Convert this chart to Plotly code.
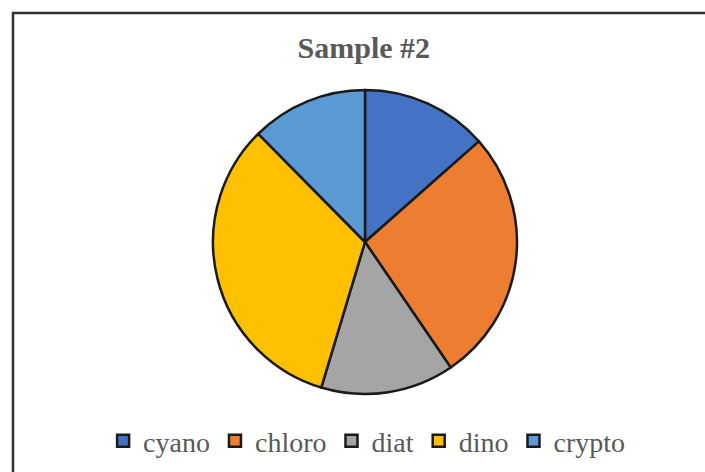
import plotly.graph_objects as go

# Phytoplankton group composition for sample #2
groups = ["cyano", "chloro", "diat", "dino", "crypto"]
shares = [13.5, 27.0, 14.2, 33.0, 12.4]
colors = ["#4472C4", "#ED7D31", "#A5A5A5", "#FFC000", "#5B9BD5"]

W, H = 705, 472
cx, cy, r = 365, 242, 152  # pie centre (px from top-left) and radius

fig = go.Figure(
    go.Pie(
        labels=groups,
        values=shares,
        sort=False,
        direction="clockwise",
        rotation=0,
        textinfo="none",
        hoverinfo="label+percent",
        marker=dict(colors=colors, line=dict(color="#1a1a1a", width=2.5)),
        domain=dict(
            x=[(cx - r) / W, (cx + r) / W],
            y=[(H - cy - r) / H, (H - cy + r) / H],
        ),
    )
)

fig.update_layout(
    width=W,
    height=H,
    margin=dict(l=0, r=0, t=0, b=0),
    paper_bgcolor="white",
    plot_bgcolor="white",
    font=dict(family="Liberation Serif, Times New Roman, serif", color="#595959"),
    title=dict(
        text="<b>Sample #2</b>",
        x=0.516,
        xanchor="center",
        y=1 - 47 / H,
        yanchor="middle",
        font=dict(size=30, color="#595959"),
    ),
    showlegend=True,
    legend=dict(
        orientation="h",
        x=0.52,
        xanchor="center",
        y=1 - 441 / H,
        yanchor="middle",
        font=dict(size=28, color="#595959"),
        itemclick=False,
    ),
    shapes=[
        dict(
            type="rect",
            xref="paper",
            yref="paper",
            x0=13 / W,
            x1=1.02,
            y0=-0.02,
            y1=1 - 13 / H,
            line=dict(color="#303030", width=2.5),
            fillcolor="rgba(0,0,0,0)",
            layer="above",
        )
    ],
)

fig.write_html("out.html")
